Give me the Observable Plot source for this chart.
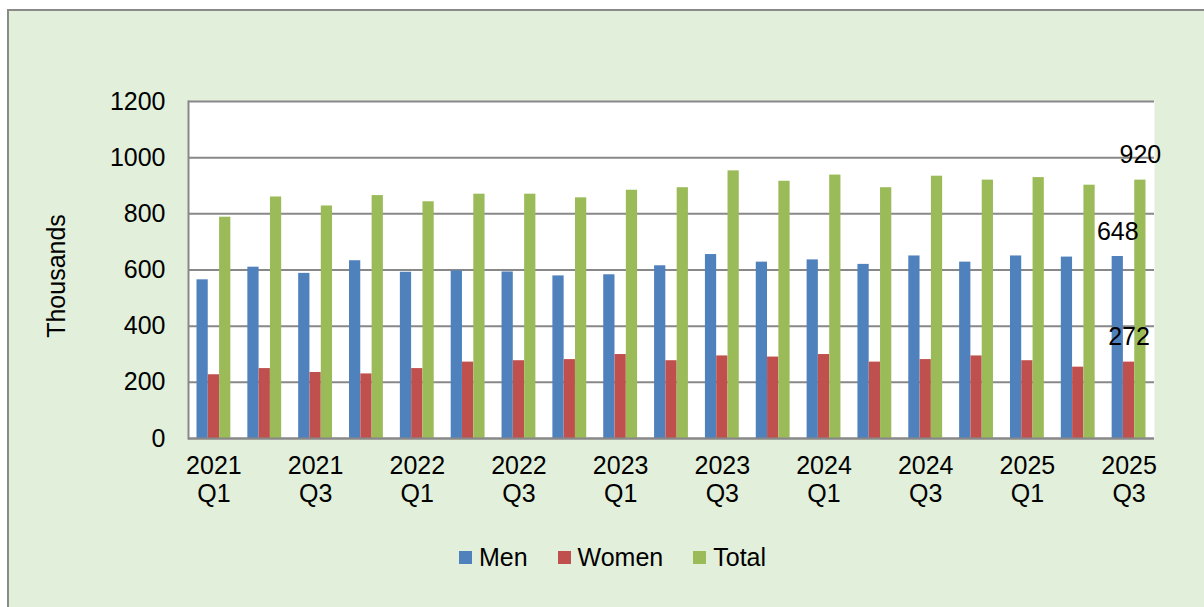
<!DOCTYPE html>
<html>
<head>
<meta charset="utf-8">
<script src="https://cdn.jsdelivr.net/npm/d3@7"></script>
<script src="https://cdn.jsdelivr.net/npm/@observablehq/plot@0.6"></script>
<style>
  html, body { margin: 0; padding: 0; background: #ffffff; width: 1204px; height: 607px; overflow: hidden; }
  #panel {
    position: absolute; left: 7px; top: 9px; right: 0; bottom: 0;
    border-left: 2px solid #8a8a8a; border-top: 2px solid #8a8a8a;
    background: #E2EFDA;
    font-family: "Liberation Sans", Arial, sans-serif;
  }
  #legend {
    position: absolute; left: 0; right: 0; top: 531px;
    display: flex; justify-content: center; align-items: center;
    padding-left: 12px; font-size: 25px; color: #000; line-height: 30px;
  }
  .item { display: flex; align-items: center; margin-right: 30px; }
  .item:last-child { margin-right: 0; }
  .sw { width: 13px; height: 13px; margin-right: 7px; }
</style>
</head>
<body>
<div id="panel"><div id="chart"></div><div id="legend"></div></div>
<script>
const quarters = ["2021 Q1","2021 Q2","2021 Q3","2021 Q4","2022 Q1","2022 Q2","2022 Q3","2022 Q4",
                  "2023 Q1","2023 Q2","2023 Q3","2023 Q4","2024 Q1","2024 Q2","2024 Q3","2024 Q4",
                  "2025 Q1","2025 Q2","2025 Q3"];
const men   = [565, 610, 588, 633, 592, 597, 593, 579, 583, 615, 655, 628, 636, 620, 650, 628, 650, 646, 648];
const women = [227, 249, 235, 230, 249, 272, 277, 281, 299, 277, 294, 290, 299, 272, 281, 294, 277, 254, 272];
const total = [788, 860, 828, 865, 843, 870, 870, 857, 884, 893, 953, 916, 938, 893, 934, 920, 929, 902, 920];
const seriesNames = ["Men", "Women", "Total"];
const seriesKeys = ["men", "women", "total"];
const seriesColors = ["#4F81BD", "#C0504D", "#9BBB59"];
const yTicks = [0, 200, 400, 600, 800, 1000, 1200];
const xTickLabels = quarters.filter((d, i) => i % 2 === 0);

const data = quarters.map((q, i) => ({quarter: q, men: men[i], women: women[i], total: total[i]}));
const last = [data[data.length - 1]];

const barW = 11.3, edge = 8.5;
const barMarks = seriesKeys.map((k, j) => Plot.barY(data, {
  x: "quarter", y: k, fill: seriesColors[j],
  insetLeft: edge + j * barW, insetRight: edge + (2 - j) * barW
}));
const labelMarks = seriesKeys.map((k, j) => Plot.text(last, {
  x: "quarter", y: k, text: d => String(d[k]),
  dx: (j - 1) * barW, dy: -25, fontSize: 25, fill: "#000"
}));

const chart = Plot.plot({
  width: 1195, height: 500,
  marginLeft: 179, marginRight: 50, marginTop: 90, marginBottom: 73,
  style: {fontFamily: "Liberation Sans, Arial, sans-serif", background: "transparent", color: "#000"},
  x: {type: "band", domain: quarters, padding: 0, round: false},
  y: {domain: [0, 1200]},
  marks: [
    Plot.frame({fill: "#ffffff", stroke: null}),
    Plot.ruleY(yTicks, {stroke: "#888888", strokeWidth: 2}),
    Plot.frame({anchor: "left", stroke: "#888888", strokeWidth: 2}),
    ...barMarks,
    Plot.ruleY([0], {stroke: "#888888", strokeWidth: 2}),
    Plot.axisY({ticks: yTicks, tickSize: 0, tickPadding: 23, fontSize: 25, label: null, tickFormat: d => String(d)}),
    Plot.axisX({ticks: xTickLabels, tickSize: 0, tickPadding: 16, fontSize: 25, lineHeight: 1.12,
                tickFormat: d => d.replace(" ", "\n"), label: null}),
    Plot.text(["Thousands"], {frameAnchor: "left", textAnchor: "middle", dx: -132, dy: 6, rotate: -90, fontSize: 25, fill: "#000"}),
    ...labelMarks
  ]
});
document.getElementById("chart").appendChild(chart);

const legend = document.getElementById("legend");
seriesNames.forEach((name, j) => {
  const item = document.createElement("div");
  item.className = "item";
  const sw = document.createElement("div");
  sw.className = "sw";
  sw.style.background = seriesColors[j];
  const t = document.createElement("span");
  t.textContent = name;
  item.appendChild(sw); item.appendChild(t);
  legend.appendChild(item);
});
</script>
</body>
</html>
